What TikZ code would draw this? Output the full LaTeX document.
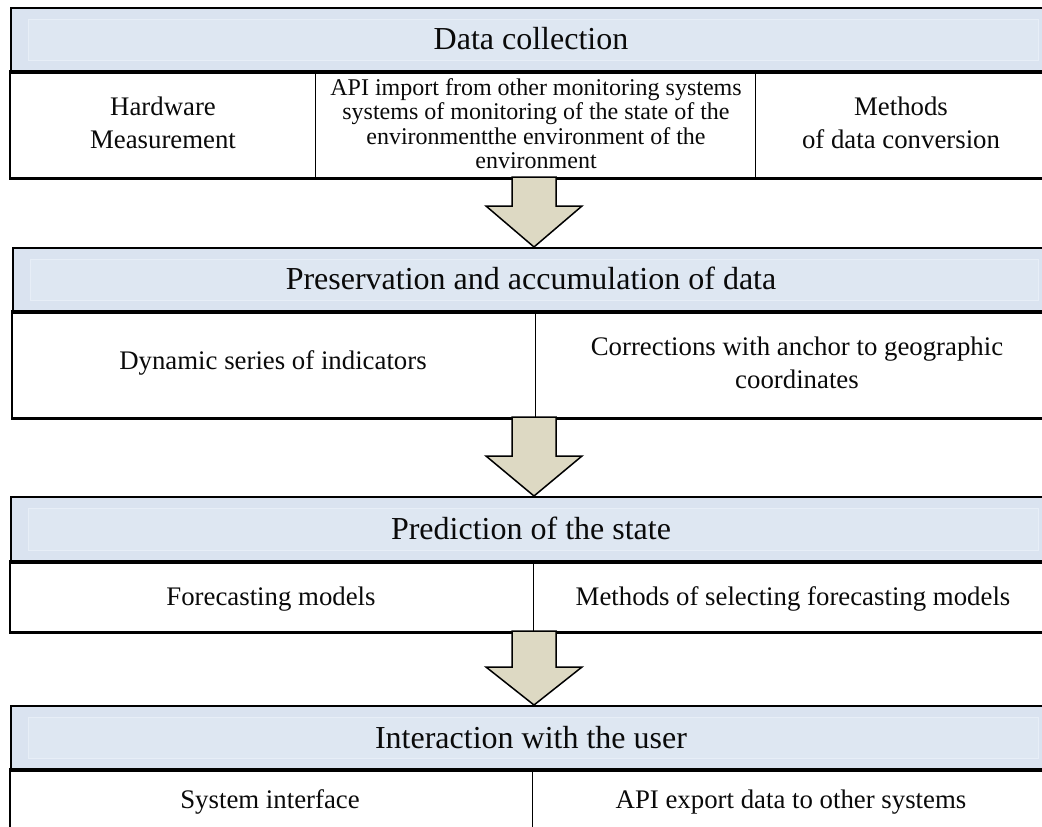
\documentclass[tikz,border=0pt]{standalone}
\usepackage{fontspec}
\setmainfont{Liberation Serif}
\usetikzlibrary{calc}
\definecolor{headfill}{HTML}{DAE3F0}
\definecolor{headinner}{HTML}{DEE7F2}
\definecolor{headedge}{HTML}{E7EEF7}
\definecolor{arrowfill}{HTML}{DDD9C3}
\definecolor{ink}{HTML}{0A0A0A}
\newcommand\mytightlines{\lineskiplimit=-20pt\relax}
\tikzset{
  head/.style={draw=black, line width=2.4pt, fill=headfill, anchor=north west, inner sep=0pt},
  title/.style={font=\fontsize{32}{36}\selectfont, text=ink, inner sep=0pt},
  cell/.style={draw=black, line width=1.4pt, fill=white, anchor=north west, inner sep=0pt},
  rowtext/.style={font=\fontsize{26.8}{33}\selectfont\mytightlines, text=ink, inner sep=0pt},
  smalltext/.style={font=\fontsize{24}{24.2}\selectfont\mytightlines, text=ink, inner sep=0pt},
  frame/.style={draw=black, line width=2.6pt},
  innerband/.style={fill=headinner, draw=headedge, line width=1pt},
  blockarrow/.style={draw=black, line width=1.5pt, fill=arrowfill, line join=miter},
}
\begin{document}
\begin{tikzpicture}[x=1pt, y=-1pt]
\useasboundingbox (0,0) rectangle (1042,827);
\clip (0,0) rectangle (1042,827);

% ---------- Panel 1 ----------
\node[head, minimum width=1045pt, minimum height=63pt] (h1) at (10,7) {};
\fill[innerband] (28,19) rectangle (1038,60);
\node[title] (t1) at (531,38.5) {Data collection};
\node[cell, minimum width=305pt, minimum height=107pt] (c11) at (10,70) {};
\node[cell, minimum width=440pt, minimum height=107pt] (c12) at (315,70) {};
\node[cell, minimum width=300pt, minimum height=107pt] (c13) at (755,70) {};
\node[rowtext, align=center] (l11) at (163,122.5) {Hardware\\Measurement};
\node[smalltext, align=center] (l12) at (536,123.6)
  {API import from other monitoring systems\\systems of monitoring of the state of the\\environmentthe environment of the\\environment};
\node[rowtext, align=center] (l13) at (901,122.5) {Methods\\of data conversion};
\draw[frame] (h1.south west) -- (h1.south east);
\draw[frame] (c11.north west) -- (c11.south west) -- (c13.south east);

% ---------- Panel 2 ----------
\node[head, minimum width=1043pt, minimum height=63pt] (h2) at (12,247) {};
\fill[innerband] (30,259) rectangle (1038,300);
\node[title] (t2) at (531,278.5) {Preservation and accumulation of data};
\node[cell, minimum width=523pt, minimum height=107pt] (c21) at (12,310) {};
\node[cell, minimum width=520pt, minimum height=107pt] (c22) at (535,310) {};
\node[rowtext, anchor=base] (l21) at (273,369) {Dynamic series of indicators};
\node[rowtext, align=center, anchor=base] (l22) at (797,388) {Corrections with anchor to geographic\\coordinates};
\draw[frame] (h2.south west) -- (h2.south east);
\draw[frame] (c21.north west) -- (c21.south west) -- (c22.south east);

% ---------- Panel 3 ----------
\node[head, minimum width=1045pt, minimum height=64pt] (h3) at (10,496) {};
\fill[innerband] (28,508) rectangle (1038,550);
\node[title] (t3) at (531,528.5) {Prediction of the state};
\node[cell, minimum width=523pt, minimum height=71pt] (c31) at (10,560) {};
\node[cell, minimum width=522pt, minimum height=71pt] (c32) at (533,560) {};
\node[rowtext, anchor=base] (l31) at (271,605) {Forecasting models};
\node[rowtext, anchor=base] (l32) at (793,605) {Methods of selecting forecasting models};
\draw[frame] (h3.south west) -- (h3.south east);
\draw[frame] (c31.north west) -- (c31.south west) -- (c32.south east);

% ---------- Panel 4 ----------
\node[head, minimum width=1045pt, minimum height=63pt] (h4) at (10,705) {};
\fill[innerband] (28,717) rectangle (1038,758);
\node[title] (t4) at (531,737.5) {Interaction with the user};
\node[cell, minimum width=522pt, minimum height=70pt] (c41) at (10,768) {};
\node[cell, minimum width=523pt, minimum height=70pt] (c42) at (532,768) {};
\node[rowtext, anchor=base] (l41) at (270,808) {System interface};
\node[rowtext, anchor=base] (l42) at (791,808) {API export data to other systems};
\draw[frame] (h4.south west) -- (h4.south east);
\draw[frame] (c41.north west) -- (c41.south west);

% ---------- Block arrows ----------
\coordinate (a1s) at (534,177);
\coordinate (a1t) at (534,247);
\draw[blockarrow] ($(a1s)+(-22,0)$) -- ($(a1s)+(22,0)$) -- ($(a1s)+(22,29)$) -- ($(a1s)+(48,29)$)
  -- (a1t) -- ($(a1s)+(-48,29)$) -- ($(a1s)+(-22,29)$) -- cycle;
\coordinate (a2s) at (534,417);
\coordinate (a2t) at (534,496);
\draw[blockarrow] ($(a2s)+(-22,0)$) -- ($(a2s)+(22,0)$) -- ($(a2s)+(22,39)$) -- ($(a2s)+(48,39)$)
  -- (a2t) -- ($(a2s)+(-48,39)$) -- ($(a2s)+(-22,39)$) -- cycle;
\coordinate (a3s) at (534,631);
\coordinate (a3t) at (534,705);
\draw[blockarrow] ($(a3s)+(-22,0)$) -- ($(a3s)+(22,0)$) -- ($(a3s)+(22,36)$) -- ($(a3s)+(48,36)$)
  -- (a3t) -- ($(a3s)+(-48,36)$) -- ($(a3s)+(-22,36)$) -- cycle;
\end{tikzpicture}
\end{document}
